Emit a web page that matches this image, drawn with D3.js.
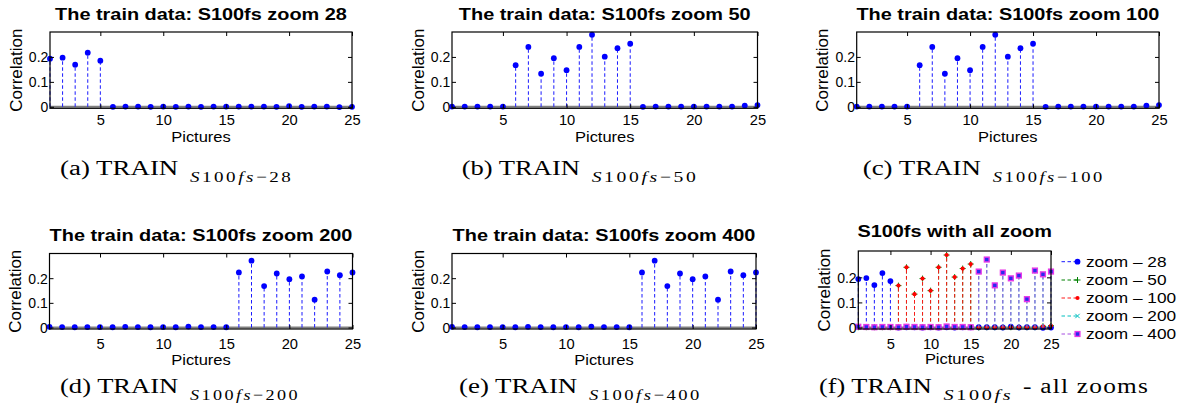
<!DOCTYPE html>
<html>
<head>
<meta charset="utf-8">
<script src="https://cdn.jsdelivr.net/npm/d3@7"></script>
<style>
  body { margin: 0; background: #fff; }
  svg { display: block; }
</style>
</head>
<body>
<script>
// ---- data ---------------------------------------------------------------
const pictures = [1, 2, 3, 4, 5, 6, 7, 8, 9, 10, 11, 12, 13, 14, 15, 16, 17, 18, 19, 20, 21, 22, 23, 24, 25];
const xTickValues = [5, 10, 15, 20, 25];
const yTickValues = [0, 0.1, 0.2];
const yTickLabels = ["0", "0.1", "0.2"];

const corrZoom28  = [0.193, 0.197, 0.169, 0.217, 0.185, 0.000, 0.001, 0.001, 0.000, 0.001, 0.000, 0.001, 0.000,
                     0.001, 0.001, 0.001, 0.001, 0.001, 0.000, 0.003, 0.000, 0.001, 0.001, -0.001, 0.000];
const corrZoom50  = [0.001, 0.001, 0.001, 0.001, 0.001, 0.167, 0.240, 0.133, 0.195, 0.147, 0.240, 0.289, 0.201,
                     0.235, 0.253, 0.000, 0.001, 0.001, 0.001, 0.001, 0.001, 0.001, 0.001, 0.005, 0.007];
const corrZoom100 = [0.001, 0.001, 0.001, 0.001, 0.001, 0.167, 0.240, 0.133, 0.195, 0.147, 0.240, 0.289, 0.201,
                     0.235, 0.253, 0.000, 0.001, 0.001, 0.001, 0.001, 0.001, 0.001, 0.001, 0.005, 0.007];
const corrZoom200 = [0.003, 0.002, 0.001, 0.002, 0.002, 0.001, 0.003, 0.002, 0.001, 0.002, 0.001, 0.004, 0.002,
                     0.002, 0.001, 0.223, 0.271, 0.168, 0.219, 0.196, 0.207, 0.113, 0.227, 0.212, 0.223];
const corrZoom400 = [0.003, 0.002, 0.001, 0.002, 0.002, 0.001, 0.003, 0.002, 0.001, 0.002, 0.001, 0.004, 0.002,
                     0.002, 0.001, 0.223, 0.271, 0.168, 0.219, 0.196, 0.207, 0.113, 0.227, 0.212, 0.223];

const panelTitles = [
  "The train data: S100fs zoom 28",
  "The train data: S100fs zoom 50",
  "The train data: S100fs zoom 100",
  "The train data: S100fs zoom 200",
  "The train data: S100fs zoom 400",
  "S100fs with all zoom"
];
const captionLetters = ["(a)", "(b)", "(c)", "(d)", "(e)", "(f)"];
const captionZooms = ["28", "50", "100", "200", "400", null];
const captionTail = "- all zooms";
const legendLabels = ["zoom \u2013 28", "zoom \u2013 50", "zoom \u2013 100", "zoom \u2013 200", "zoom \u2013 400"];
const xLabel = "Pictures";
const yLabel = "Correlation";

// ---- styling ------------------------------------------------------------
const W = 1179, H = 412;
const SANS = "'Liberation Sans', Arial, Helvetica, sans-serif";
const SERIF = "'Liberation Serif', 'Times New Roman', serif";

const seriesStyle = {
  z28:  { stem: "#1a1aff", marker: "dot",    fill: "#0000ff", stroke: "#0000ff", r: 2.9 },
  z50:  { stem: "#008000", marker: "plus",   fill: "none",    stroke: "#008000", r: 3 },
  z100: { stem: "#ff1a1a", marker: "dot",    fill: "#ff0000", stroke: "#ff0000", r: 2.1 },
  z200: { stem: "#00bfbf", marker: "cross",  fill: "none",    stroke: "#00bfbf", r: 2.2 },
  z400: { stem: "#a64ee0", marker: "square", fill: "#2a2af0", stroke: "#e838e8", r: 2.4 }
};

// panel boxes, label offsets and caption pieces (start, widths)
const panels = [
  { x0: 50,    x1: 352,   y0: 32,    y1: 108.3, titleY: 19.5,  tickY: 17.2, xlabY: 141.5, capX: 60,    mainW: 118.3, subW: 103.3, capY: 175 },
  { x0: 452,   x1: 757.5, y0: 32,    y1: 108.3, titleY: 19.5,  tickY: 17.2, xlabY: 141.5, capX: 461.7, mainW: 118.3, subW: 106.7, capY: 175 },
  { x0: 856.7, x1: 1159,  y0: 32,    y1: 108.3, titleY: 19.5,  tickY: 17.2, xlabY: 141.5, capX: 862.7, mainW: 118.3, subW: 112,   capY: 175 },
  { x0: 49.5,  x1: 352.5, y0: 253.5, y1: 329,   titleY: 240.7, tickY: 20.5, xlabY: 364.5, capX: 60,    mainW: 118.3, subW: 110,   capY: 392.7 },
  { x0: 452,   x1: 756,   y0: 253.5, y1: 329,   titleY: 240.7, tickY: 20.5, xlabY: 364.5, capX: 459,   mainW: 118.3, subW: 112.7, capY: 392.7 },
  { x0: 858.3, x1: 1051,  y0: 251,   y1: 329,   titleY: 237.3, tickY: 20,   xlabY: 364,   capX: 819,   mainW: 112.7, subW: 70,    capY: 392.7, tailW: 126 }
];

const svg = d3.select("body").append("svg")
  .attr("width", W).attr("height", H)
  .style("font-family", SANS);

// horizontally stretched text placed at (x, y)
function stretchedText(parent, x, y, str, o) {
  const g = parent.append("g").attr("transform", `translate(${x},${y}) scale(${o.sx || 1},1)`);
  return g.append("text")
    .attr("text-anchor", o.anchor || "middle")
    .attr("font-size", o.size)
    .attr("font-weight", o.weight || "normal")
    .attr("fill", "#000")
    .text(str);
}

// serif caption piece spanning [left, left + width]
function captionPiece(left, baseline, width, size, spacing) {
  return svg.append("text")
    .attr("x", left).attr("y", baseline)
    .attr("font-family", SERIF).attr("font-size", size).attr("fill", "#000")
    .attr("letter-spacing", spacing)
    .attr("textLength", width).attr("lengthAdjust", "spacingAndGlyphs");
}

function drawMarker(g, cx, cy, st) {
  if (st.marker === "dot") {
    g.append("circle").attr("cx", cx).attr("cy", cy).attr("r", st.r).attr("fill", st.fill);
  } else if (st.marker === "plus") {
    g.append("path").attr("d", `M${cx - st.r},${cy}H${cx + st.r}M${cx},${cy - st.r}V${cy + st.r}`)
      .attr("stroke", st.stroke).attr("stroke-width", 1).attr("fill", "none");
  } else if (st.marker === "cross") {
    g.append("path").attr("d", `M${cx - st.r},${cy - st.r}L${cx + st.r},${cy + st.r}M${cx - st.r},${cy + st.r}L${cx + st.r},${cy - st.r}`)
      .attr("stroke", st.stroke).attr("stroke-width", 1).attr("fill", "none");
  } else if (st.marker === "square") {
    g.append("rect").attr("x", cx - st.r).attr("y", cy - st.r).attr("width", 2 * st.r).attr("height", 2 * st.r)
      .attr("fill", st.fill).attr("stroke", st.stroke).attr("stroke-width", 1.4);
  }
}

function drawPanel(i, seriesList) {
  const p = panels[i];
  const yMax = i === 5 ? 0.305 : 0.3;
  const x = d3.scaleLinear().domain([1, 25]).range([p.x0, p.x1]);
  const y = d3.scaleLinear().domain([-0.006, yMax]).range([p.y1, p.y0]);
  const g = svg.append("g");

  // stem baseline
  g.append("line")
    .attr("x1", p.x0).attr("x2", p.x1).attr("y1", y(0)).attr("y2", y(0))
    .attr("stroke", "#808080").attr("stroke-width", 2);

  // stems and markers, series by series
  seriesList.forEach(s => {
    const st = seriesStyle[s.key];
    const sg = g.append("g");
    sg.selectAll("line.stem").data(pictures).join("line")
      .attr("class", "stem")
      .attr("x1", d => x(d)).attr("x2", d => x(d))
      .attr("y1", y(0)).attr("y2", (d, k) => y(s.values[k]))
      .attr("stroke", st.stem).attr("stroke-width", 1)
      .attr("stroke-dasharray", "3.5,2.5");
    pictures.forEach((d, k) => drawMarker(sg, x(d), y(s.values[k]), st));
  });

  // axes with inward ticks on all four sides
  const fmtY = d => yTickLabels[yTickValues.indexOf(d)];
  const ax = svg.append("g").attr("font-family", SANS);
  const bottom = ax.append("g").attr("transform", `translate(0,${p.y1})`)
    .call(d3.axisBottom(x).tickValues(xTickValues).tickSizeInner(-4).tickSizeOuter(0).tickFormat(d3.format("d")));
  bottom.selectAll("text").attr("y", p.tickY).attr("dy", 0)
    .attr("font-size", 14).attr("font-family", SANS).attr("fill", "#000")
    .attr("transform", "scale(1.05,1)");
  const top = ax.append("g").attr("transform", `translate(0,${p.y0})`)
    .call(d3.axisTop(x).tickValues(xTickValues).tickSizeInner(-4).tickSizeOuter(0).tickFormat(""));
  const left = ax.append("g").attr("transform", `translate(${p.x0},0)`)
    .call(d3.axisLeft(y).tickValues(yTickValues).tickSizeInner(-4).tickSizeOuter(0).tickPadding(1.7).tickFormat(fmtY));
  left.selectAll("text").attr("dy", "0.36em")
    .attr("font-size", 14).attr("font-family", SANS).attr("fill", "#000");
  const right = ax.append("g").attr("transform", `translate(${p.x1},0)`)
    .call(d3.axisRight(y).tickValues(yTickValues).tickSizeInner(-4).tickSizeOuter(0).tickFormat(""));
  [bottom, top, left, right].forEach(a => {
    a.select(".domain").remove();
    a.selectAll(".tick line").attr("stroke", "#000").attr("stroke-width", 1);
  });
  // the axes box
  ax.append("rect")
    .attr("x", p.x0).attr("y", p.y0).attr("width", p.x1 - p.x0).attr("height", p.y1 - p.y0)
    .attr("fill", "none").attr("stroke", "#000").attr("stroke-width", 1.2);

  // title and axis labels
  stretchedText(svg, (p.x0 + p.x1) / 2, p.titleY, panelTitles[i], { size: 17, weight: "bold", sx: 1.17 });
  stretchedText(svg, (p.x0 + p.x1) / 2, p.xlabY, xLabel, { size: 15, sx: 1.1 });
  svg.append("text")
    .attr("transform", `translate(${p.x0 - 28.5},${(p.y0 + p.y1) / 2}) rotate(-90)`)
    .attr("text-anchor", "middle").attr("font-size", 17).attr("fill", "#000")
    .text(yLabel);

  // caption: "(x) TRAIN" with a math subscript
  captionPiece(p.capX, p.capY, p.mainW, 20.5, 0).text(captionLetters[i] + " TRAIN");
  const subX = p.capX + p.mainW + 11.7;
  const sub = captionPiece(subX, p.capY + 7, p.subW, 15, 2);
  sub.append("tspan").attr("font-style", "italic").text("S");
  sub.append("tspan").text("100");
  sub.append("tspan").attr("font-style", "italic").text("fs");
  if (captionZooms[i] !== null) {
    sub.append("tspan").text("\u2212" + captionZooms[i]);
  } else {
    captionPiece(subX + p.subW + 9.7, p.capY, p.tailW, 20.5, 1).text(captionTail);
  }

  return { x, y };
}

// ---- panels (a)-(e): one zoom level each --------------------------------
drawPanel(0, [{ key: "z28", values: corrZoom28 }]);
drawPanel(1, [{ key: "z28", values: corrZoom50 }]);
drawPanel(2, [{ key: "z28", values: corrZoom100 }]);
drawPanel(3, [{ key: "z28", values: corrZoom200 }]);
drawPanel(4, [{ key: "z28", values: corrZoom400 }]);

// ---- panel (f): every zoom level together -------------------------------
const allSeries = [
  { key: "z28",  values: corrZoom28 },
  { key: "z50",  values: corrZoom50 },
  { key: "z100", values: corrZoom100 },
  { key: "z200", values: corrZoom200 },
  { key: "z400", values: corrZoom400 }
];
drawPanel(5, allSeries);

// legend for panel (f)
const legendRowY = [261.7, 280, 298, 316, 334];
const lg = svg.append("g");
allSeries.forEach((s, k) => {
  const st = seriesStyle[s.key];
  const yc = legendRowY[k];
  lg.append("line").attr("x1", 1061.5).attr("x2", 1077).attr("y1", yc).attr("y2", yc)
    .attr("stroke", st.stem).attr("stroke-width", 1).attr("stroke-dasharray", "3.5,2.5");
  drawMarker(lg, 1077.5, yc, st);
  stretchedText(lg, 1086, yc + 5.2, legendLabels[k], { size: 15, sx: 1.15, anchor: "start" });
});
</script>
</body>
</html>
